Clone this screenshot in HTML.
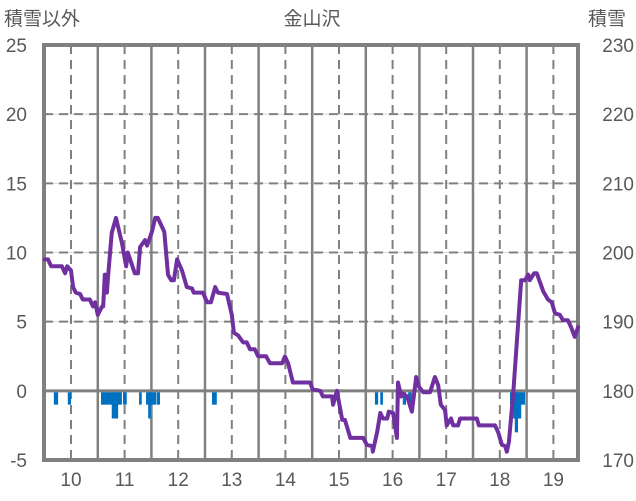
<!DOCTYPE html>
<html><head><meta charset="utf-8"><style>
html,body{margin:0;padding:0;background:#fff;}
svg{display:block;font-family:"Liberation Sans","Noto Sans CJK JP",sans-serif;}
</style></head><body>
<svg id="chart" width="636" height="501" viewBox="0 0 636 501" xmlns="http://www.w3.org/2000/svg">
<text x="312" y="25" font-size="19" fill="#595959" text-anchor="middle">金山沢</text>
<text x="4" y="25" font-size="19" fill="#595959">積雪以外</text>
<text x="588" y="25" font-size="19" fill="#595959">積雪</text>
<g id="grid"></g>
<g id="bars"></g>
<g id="lines"></g>
<g id="labels"></g>
</svg>
<script>
const lineDays=[9.51,9.57,9.63,9.83,9.89,9.93,10.00,10.04,10.09,10.17,10.22,10.35,10.41,10.45,10.50,10.58,10.60,10.63,10.67,10.69,10.76,10.84,10.95,11.03,11.06,11.19,11.25,11.29,11.38,11.42,11.51,11.57,11.62,11.74,11.81,11.87,11.92,11.98,12.07,12.16,12.26,12.29,12.46,12.54,12.61,12.69,12.74,12.91,13.00,13.04,13.12,13.21,13.28,13.34,13.43,13.49,13.64,13.71,13.94,13.99,14.05,14.14,14.46,14.51,14.65,14.70,14.87,14.89,14.96,15.06,15.11,15.15,15.21,15.45,15.52,15.62,15.63,15.71,15.77,15.82,15.90,15.93,16.01,16.08,16.10,16.16,16.19,16.27,16.36,16.44,16.49,16.57,16.70,16.79,16.85,16.90,16.98,17.01,17.09,17.13,17.22,17.26,17.57,17.61,17.91,17.97,18.04,18.10,18.13,18.17,18.25,18.40,18.47,18.53,18.56,18.64,18.69,18.81,18.90,18.97,19.03,19.12,19.18,19.27,19.33,19.40,19.46];
const lineValues=[9.5,9.5,9.0,9.0,8.5,9.0,8.7,7.5,7.1,7.0,6.6,6.6,6.1,6.4,5.5,6.1,6.1,8.4,7.1,8.2,11.4,12.5,10.7,9.0,10.0,8.5,8.5,10.4,10.9,10.5,11.5,12.5,12.5,11.5,8.4,8.0,8.0,9.5,8.7,7.5,7.4,7.1,7.1,6.4,6.4,7.5,7.1,7.0,5.5,4.2,4.0,3.5,3.5,3.0,3.0,2.5,2.5,2.0,2.0,2.5,2.0,0.6,0.6,0.1,0.0,-0.4,-0.4,-1.0,0.0,-2.1,-2.1,-2.6,-3.4,-3.4,-3.9,-4.0,-4.4,-3.0,-1.6,-2.0,-2.0,-1.5,-1.6,-3.4,0.6,-0.4,-0.2,-0.4,-1.5,1.0,0.3,-0.1,-0.1,1.0,0.4,-1.0,-1.4,-2.5,-2.0,-2.5,-2.5,-2.0,-2.0,-2.5,-2.5,-3.0,-3.9,-4.0,-4.4,-3.7,-0.2,8.0,8.0,8.4,8.0,8.5,8.5,7.2,6.6,6.4,5.6,5.5,5.1,5.1,4.6,3.9,4.6];
const barStart=[9.68,9.94,10.56,10.76,10.97,11.27,11.40,11.44,11.60,12.63,15.67,15.77,16.06,16.19,16.29,18.19,18.25,18.28];
const barEnd=[9.76,10.00,10.95,10.88,11.04,11.32,11.59,11.49,11.66,12.72,15.73,15.82,16.13,16.25,16.36,18.47,18.40,18.34];
const barValues=[-1,-1,-1,-2,-1,-1,-1,-2,-1,-1,-1,-1,-1,-1,-1,-1,-2,-3];
const leftTicks=["25","20","15","10","5","0","-5"];
const leftTickValues=[25,20,15,10,5,0,-5];
const rightTicks=["230","220","210","200","190","180","170"];
const xTicks=["10","11","12","13","14","15","16","17","18","19"];
const xTickDays=[10,11,12,13,14,15,16,17,18,19];

const X0=44,X1=578,Y0=45,Y1=460;
const xs=d=>71+(d-10)*53.6;
const ys=v=>Y1-(v+5)*(Y1-Y0)/30;
const NS="http://www.w3.org/2000/svg";
function mk(tag,parent,attrs){const e=document.createElementNS(NS,tag);for(const k in attrs)e.setAttribute(k,attrs[k]);parent.appendChild(e);return e;}
const grid=document.getElementById('grid'),bars=document.getElementById('bars'),lines=document.getElementById('lines'),labels=document.getElementById('labels');

leftTickValues.forEach((v,i)=>{
  const y=ys(v);
  if(v>-5&&v<25&&v!==0){
    const l1=mk('line',grid,{x1:X0,x2:X1,y1:y,y2:y,stroke:'#d9d9d9','stroke-width':1});
    
    
    const l2=mk('line',grid,{x1:X0,x2:X1,y1:y,y2:y,stroke:'#808080','stroke-width':2,'stroke-dasharray':'9,6'});
    
    
  }
  const t=mk('text',labels,{x:27,y:y+7,'font-size':19,fill:'#595959','text-anchor':'end'});
  t.textContent=leftTicks[i];
  
  
  const r=mk('text',labels,{x:634,y:y+7,'font-size':19,fill:'#595959','text-anchor':'end'});
  r.textContent=rightTicks[i];
  
  
});
xTickDays.forEach((d,i)=>{
  const x=xs(d);
  const l=mk('line',grid,{x1:x,x2:x,y1:Y0,y2:Y1,stroke:'#808080','stroke-width':2,'stroke-dasharray':'9,6'});
  
  
  if(i<xTickDays.length-1){
    const xb=xs(d+0.5);
    const s=mk('line',grid,{x1:xb,x2:xb,y1:Y0,y2:Y1,stroke:'#808080','stroke-width':2.5});
    
    
  }
  const t=mk('text',labels,{x:x,y:486,'font-size':19,fill:'#595959','text-anchor':'middle'});
  t.textContent=xTicks[i];
  
  
});
const z=mk('line',grid,{x1:X0,x2:X1,y1:ys(0),y2:ys(0),stroke:'#808080','stroke-width':3});


const fr=mk('rect',grid,{x:X0,y:Y0,width:X1-X0,height:Y1-Y0,fill:'none',stroke:'#808080','stroke-width':4});



barStart.forEach((s,i)=>{
  const x=xs(s),w=Math.max(2,xs(barEnd[i])-x);
  const y0=ys(0)+1.5,y1=ys(barValues[i]);
  const r=mk('rect',bars,{x:x,y:y0,width:w,height:y1-y0,fill:'#0070c0'});
  
  
});

const pts=lineDays.map((d,i)=>xs(d).toFixed(1)+','+ys(lineValues[i]).toFixed(1)).join(' ');
const pl=mk('polyline',lines,{points:pts,fill:'none',stroke:'#7030a0','stroke-width':4,'stroke-linejoin':'round','stroke-linecap':'round'});


</script>
</body></html>
